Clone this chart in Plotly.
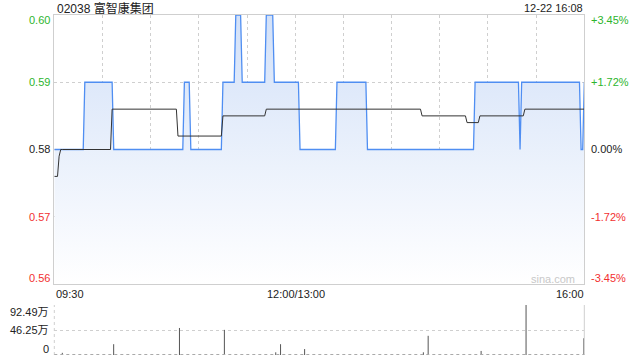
import plotly.graph_objects as go

# ---------------- data ----------------
title = "02038 富智康集团"
stamp = "12-22 16:08"
prev_close = 0.58
# price as run-length segments: (price, number of minutes)
price_runs = [(0.58, 19), (0.59, 18), (0.58, 44), (0.59, 4), (0.58, 20), (0.59, 8),
              (0.60, 4), (0.59, 15), (0.60, 5), (0.59, 16), (0.58, 23), (0.59, 19),
              (0.58, 67), (0.59, 28), (0.58, 1), (0.59, 37), (0.58, 2), (0.59, 1)]
# average price run-length segments
avg_runs = [(0.576, 3), (0.579, 1), (0.580, 32), (0.586, 41), (0.582, 28), (0.585, 27),
            (0.586, 97), (0.585, 28), (0.584, 8), (0.585, 28), (0.586, 38)]
# volume (万) at minute index
vol_minutes = [5, 37, 78, 106, 138, 141, 156, 230, 233, 266, 294, 330]
vol_values = [4, 20, 50, 46.5, 5, 20, 11, 5, 35.5, 7.5, 92.49, 31]
left_ticks = [0.60, 0.59, 0.58, 0.57, 0.56]
right_ticks = ["+3.45%", "+1.72%", "0.00%", "-1.72%", "-3.45%"]
vol_ticks = ["92.49万", "46.25万", "0"]
time_labels = ["09:30", "12:00/13:00", "16:00"]


def expand(runs):
    out = []
    for v, n in runs:
        out.extend([v] * n)
    return out


price = expand(price_runs)
avg = expand(avg_runs)
minutes = list(range(len(price)))

W, H = 640, 360
L, R = 54.3, 584.3
T, B = 15, 284
VT, VB = 305, 355


def px(x):
    return x / W


def py(y):
    return 1 - y / H


FONT = "Liberation Sans, Arial, Noto Sans CJK SC"
GREEN = "#2db52d"
RED = "#f23030"
GRID = "#cfcfcf"

fig = go.Figure()

fig.add_trace(go.Scatter(
    x=minutes, y=price, mode="lines",
    line=dict(color="#4f8ef2", width=1.3),
    fill="tozeroy",
    fillgradient=dict(type="vertical", start=0.56, stop=0.60,
                      colorscale=[[0, "#ffffff"], [1, "#d3e1f8"]]),
    xaxis="x", yaxis="y", hoverinfo="skip", showlegend=False))

fig.add_trace(go.Scatter(
    x=minutes, y=avg, mode="lines",
    line=dict(color="#333333", width=1),
    xaxis="x", yaxis="y", hoverinfo="skip", showlegend=False))

vx, vy = [], []
for m, v in zip(vol_minutes, vol_values):
    vx += [m, m, None]
    vy += [0, v, None]
fig.add_trace(go.Scatter(
    x=vx, y=vy, mode="lines", line=dict(color="#555555", width=1),
    xaxis="x2", yaxis="y2", hoverinfo="skip", showlegend=False))

shapes = [
    dict(type="line", xref="x", yref="y", x0=0, x1=330, y0=prev_close, y1=prev_close,
         line=dict(color="#f0a585", width=1, dash="dash"), layer="below"),
    dict(type="line", xref="paper", yref="paper", x0=px(R), x1=px(R), y0=py(VB), y1=py(VT),
         line=dict(color=GRID, width=1)),
    dict(type="line", xref="paper", yref="paper", x0=px(L), x1=px(L), y0=py(VB), y1=py(VT),
         line=dict(color=GRID, width=1, dash="dot")),
    dict(type="line", xref="paper", yref="paper", x0=px(L), x1=px(R), y0=py(VB - 0.5), y1=py(VB - 0.5),
         line=dict(color="#aaaaaa", width=1, dash="dot")),
]

ann = []


def add(text, x, y, xanchor, color="#222222", size=11):
    ann.append(dict(text=text, x=px(x), y=py(y), xref="paper", yref="paper",
                    xanchor=xanchor, yanchor="middle", showarrow=False,
                    font=dict(family=FONT, size=size, color=color)))


add(title, 55, 8, "left", "#222222", 12)
add(stamp, 585, 8, "right", "#222222", 11)
left_y = [20, 82, 149.3, 217, 278]
left_col = [GREEN, GREEN, "#222222", RED, RED]
for t, yy, c in zip(left_ticks, left_y, left_col):
    add(f"{t:.2f}", 52, yy, "right", c)
for t, yy, c in zip(right_ticks, left_y, left_col):
    add(t, 589, yy, "left", c)
add(time_labels[0], 54, 293.5, "left")
add(time_labels[1], 296, 293.5, "center")
add(time_labels[2], 586, 293.5, "right")
for t, yy in zip(vol_ticks, [311.5, 330, 348.5]):
    add(t, 51, yy, "right")
add("sina.com", 553, 278.5, "center", "#c8c8c8", 11)

fig.update_layout(
    width=W, height=H, margin=dict(l=0, r=0, t=0, b=0),
    paper_bgcolor="white", plot_bgcolor="white",
    xaxis=dict(domain=[px(L), px(R)], range=[0, 330], anchor="y",
               tickvals=list(range(30, 330, 30)), showticklabels=False, ticks="",
               showgrid=True, gridcolor=GRID, griddash="dot", gridwidth=1,
               showline=True, linecolor=GRID, linewidth=1, mirror=True, zeroline=False),
    yaxis=dict(domain=[py(B), py(T)], range=[0.56, 0.60], anchor="x",
               tickvals=[0.57, 0.59], showticklabels=False, ticks="",
               showgrid=True, gridcolor=GRID, griddash="dot", gridwidth=1,
               showline=True, linecolor=GRID, linewidth=1, mirror=True, zeroline=False),
    xaxis2=dict(domain=[px(L), px(R)], range=[0, 330.3], anchor="y2",
                showticklabels=False, ticks="", showgrid=False, showline=False, zeroline=False),
    yaxis2=dict(domain=[py(VB), py(VT)], range=[0, 92.49], anchor="x2",
                tickvals=[46.25, 92.49], showticklabels=False, ticks="",
                showgrid=True, gridcolor=GRID, griddash="dot", gridwidth=1,
                showline=False, zeroline=False),
    shapes=shapes, annotations=ann,
)

fig.write_html("out.html")
